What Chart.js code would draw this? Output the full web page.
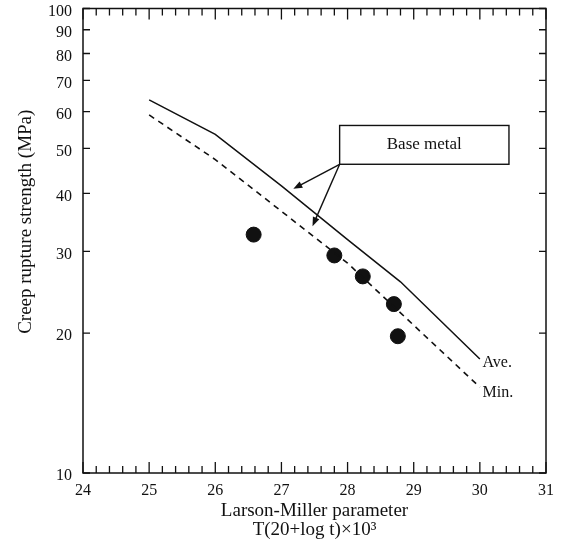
<!DOCTYPE html>
<html>
<head>
<meta charset="utf-8">
<script src="https://cdn.jsdelivr.net/npm/chart.js@4/dist/chart.umd.min.js"></script>
<style>
  html, body { margin: 0; padding: 0; background: #fff; }
  canvas { display: block; }
</style>
</head>
<body>
<canvas id="chartLM" width="563" height="545"></canvas>
<script>
// ===== DATA =====
const aveX = [25, 26, 27, 28, 28.8, 30];
const aveY = [63.6, 53.6, 41.5, 31.8, 25.8, 17.6];
const minX = [25, 26, 27, 28, 29, 30];
const minY = [59.0, 47.3, 36.6, 28.3, 20.8, 15.3];
const testX = [26.58, 27.80, 28.23, 28.70, 28.76];
const testY = [32.6, 29.4, 26.5, 23.1, 19.7];
const yTicks = [10, 20, 30, 40, 50, 60, 70, 80, 90, 100];
const xRange = [24, 31];

// callout box + arrows, in data units
const noteBox = { x1: 27.88, x2: 30.44, yTop: 56.0, yBot: 46.2, text: 'Base metal' };
const noteTips = [[27.18, 40.9], [27.47, 34.0]];
const endLabels = [
  { x: 30.04, y: 17.3, text: 'Ave.' },
  { x: 30.04, y: 14.9, text: 'Min.' }
];

const INK = '#111';
const SERIF = "'Liberation Serif', 'DejaVu Serif', serif";

const toPts = (xs, ys) => xs.map((x, i) => ({ x, y: ys[i] }));

// frame with inward ticks on all four sides
const framePlugin = {
  id: 'frame',
  afterDatasetsDraw(chart) {
    const { ctx, chartArea: a, scales: { x, y } } = chart;
    ctx.save();
    ctx.strokeStyle = INK;
    ctx.lineWidth = 1.5;
    ctx.strokeRect(a.left, a.top, a.right - a.left, a.bottom - a.top);
    ctx.lineWidth = 1.3;
    ctx.beginPath();
    for (let v = xRange[0] * 5; v <= xRange[1] * 5; v++) {
      const px = x.getPixelForValue(v / 5);
      const len = v % 5 === 0 ? 11 : 7;
      ctx.moveTo(px, a.bottom); ctx.lineTo(px, a.bottom - len);
      ctx.moveTo(px, a.top); ctx.lineTo(px, a.top + len);
    }
    yTicks.forEach(v => {
      const py = y.getPixelForValue(v);
      ctx.moveTo(a.left, py); ctx.lineTo(a.left + 7, py);
      ctx.moveTo(a.right, py); ctx.lineTo(a.right - 7, py);
    });
    ctx.stroke();
    ctx.restore();
  }
};

function arrow(ctx, x0, y0, x1, y1) {
  const ang = Math.atan2(y1 - y0, x1 - x0);
  const h = 9, w = 3.5;
  ctx.beginPath();
  ctx.moveTo(x0, y0);
  ctx.lineTo(x1 - h * 0.7 * Math.cos(ang), y1 - h * 0.7 * Math.sin(ang));
  ctx.stroke();
  ctx.beginPath();
  ctx.moveTo(x1, y1);
  ctx.lineTo(x1 - h * Math.cos(ang) + w * Math.sin(ang), y1 - h * Math.sin(ang) - w * Math.cos(ang));
  ctx.lineTo(x1 - h * Math.cos(ang) - w * Math.sin(ang), y1 - h * Math.sin(ang) + w * Math.cos(ang));
  ctx.closePath();
  ctx.fill();
}

const notePlugin = {
  id: 'notes',
  afterDraw(chart) {
    const { ctx, scales: { x, y } } = chart;
    ctx.save();
    ctx.strokeStyle = INK;
    ctx.fillStyle = INK;
    ctx.lineWidth = 1.4;
    const bx1 = x.getPixelForValue(noteBox.x1), bx2 = x.getPixelForValue(noteBox.x2);
    const by1 = y.getPixelForValue(noteBox.yTop), by2 = y.getPixelForValue(noteBox.yBot);
    ctx.fillStyle = '#fff';
    ctx.fillRect(bx1, by1, bx2 - bx1, by2 - by1);
    ctx.strokeRect(bx1, by1, bx2 - bx1, by2 - by1);
    ctx.fillStyle = INK;
    ctx.font = '17px ' + SERIF;
    ctx.textAlign = 'center';
    ctx.textBaseline = 'middle';
    ctx.fillText(noteBox.text, (bx1 + bx2) / 2, (by1 + by2) / 2);
    noteTips.forEach(([tx, ty]) => arrow(ctx, bx1, by2, x.getPixelForValue(tx), y.getPixelForValue(ty)));
    ctx.font = '16px ' + SERIF;
    ctx.textAlign = 'left';
    endLabels.forEach(l => ctx.fillText(l.text, x.getPixelForValue(l.x), y.getPixelForValue(l.y)));
    ctx.restore();
  }
};

new Chart(document.getElementById('chartLM'), {
  type: 'scatter',
  data: {
    datasets: [
      { label: 'Ave.', data: toPts(aveX, aveY), showLine: true, borderColor: INK, borderWidth: 1.5, pointRadius: 0, tension: 0 },
      { label: 'Min.', data: toPts(minX, minY), showLine: true, borderColor: INK, borderWidth: 1.6, borderDash: [6, 5], pointRadius: 0, tension: 0 },
      { label: 'Test', data: toPts(testX, testY), showLine: false, backgroundColor: INK, borderColor: INK, pointRadius: 7.5, pointHoverRadius: 7.5 }
    ]
  },
  options: {
    responsive: false,
    animation: false,
    events: [],
    layout: { padding: { top: 5, right: 17, left: 0, bottom: 0 } },
    plugins: { legend: { display: false }, tooltip: { enabled: false } },
    scales: {
      x: {
        type: 'linear', min: xRange[0], max: xRange[1],
        grid: { display: false, drawTicks: false }, border: { display: false },
        ticks: { stepSize: 1, padding: 8, color: INK, font: { family: SERIF, size: 16 } },
        title: {
          display: true, color: INK, padding: { top: 2, bottom: 6 },
          text: ['Larson-Miller parameter', 'T(20+log t)×10\u00B3'],
          font: { family: SERIF, size: 19, lineHeight: 0.98 }
        },
        afterFit(s) { s.height = 72; s.paddingLeft = 0; s.paddingRight = 0; }
      },
      y: {
        type: 'logarithmic', min: 10, max: 100,
        grid: { display: false, drawTicks: false }, border: { display: false },
        afterBuildTicks(s) { s.ticks = yTicks.map(v => ({ value: v })); },
        ticks: { padding: 11, labelOffset: 3, color: INK, font: { family: SERIF, size: 16 }, callback: v => String(v) },
        title: {
          display: true, color: INK, padding: { top: 15, bottom: 0 },
          // leading em spaces nudge the title up the axis, as in the original
          text: '\u2003\u2003Creep rupture strength (MPa)',
          font: { family: SERIF, size: 19 }
        },
        afterFit(s) { s.width = 83; s.paddingTop = 0; s.paddingBottom = 0; }
      }
    }
  },
  plugins: [framePlugin, notePlugin]
});
</script>
</body>
</html>
